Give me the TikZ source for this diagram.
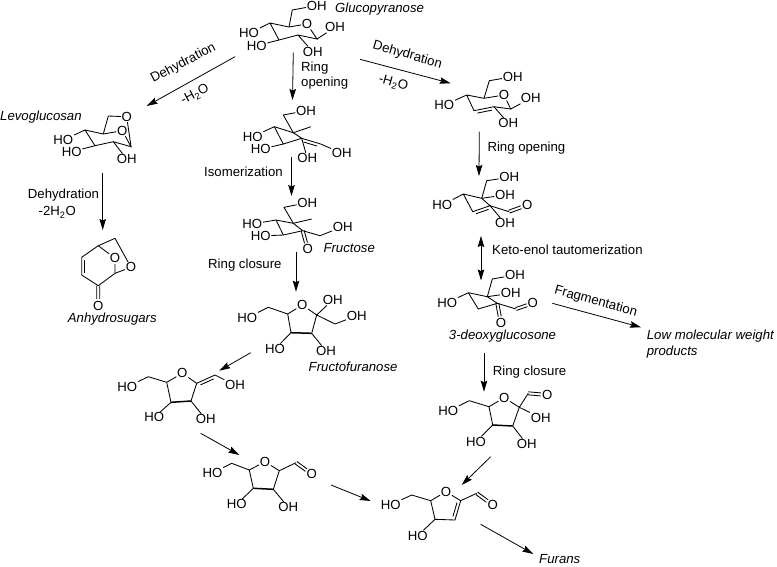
\documentclass[tikz,border=0pt]{standalone}
\usepackage{fontspec}
\setmainfont{Liberation Sans}
\usetikzlibrary{arrows.meta}
\usetikzlibrary{calc}

\tikzset{
   bond/.style={line width=0.85pt},
   backbond/.style={line width=1.5pt},
   atom/.style={inner sep=0.6pt,font=\fontsize{13.2}{15}\selectfont},
   lbl/.style={inner sep=0pt,font=\fontsize{13.2}{15}\selectfont},
   cname/.style={inner sep=0pt,font=\fontsize{13.2}{15}\selectfont\itshape},
   rxn/.style={line width=0.8pt,-{Stealth[length=11pt,width=6.5pt,inset=1.5pt]}},
   rxnboth/.style={line width=0.8pt,{Stealth[length=11pt,width=6.5pt,inset=1.5pt]}-{Stealth[length=11pt,width=6.5pt,inset=1.5pt]}},
}

% second line of a double bond
\newcommand{\sidebond}[3]{\draw[bond] ($(#2)!0.14!(#3)!#1!90:(#3)$) -- ($(#3)!0.14!(#2)!#1!-90:(#2)$);}
% carbonyl, two lines that stop short of the O
\newcommand{\cobond}[2]{
   \draw[bond] ($(#1)!1.5pt!90:(#2)$) -- ($(#1)!0.66!(#2)!1.5pt!90:(#2)$);
   \draw[bond] ($(#1)!1.5pt!-90:(#2)$) -- ($(#1)!0.66!(#2)!1.5pt!-90:(#2)$);
}

\begin{document}
\begin{tikzpicture}[x=1pt,y=-1pt]
   \useasboundingbox (0,0) rectangle (777,566);

   % glucopyranose
   \coordinate (gp1) at (270,23);
   \coordinate (gp2) at (289,27);
   \coordinate (gp3) at (317,39);
   \coordinate (gp4) at (298,35);
   \coordinate (gp5) at (279,40);
   \coordinate (gp6) at (292.3,10);
   \node[atom] (gpO)  at (307,24)     {O};
   \node[atom] (gpa)  at (316.7,5.5)  {OH};
   \node[atom] (gpb)  at (335,27.3)   {OH};
   \node[atom] (gpc)  at (312.7,51.7) {OH};
   \node[atom] (gpd)  at (249,33.3)   {HO};
   \node[atom] (gpe)  at (256.7,45.7) {HO};
   \draw[bond] (gp1) -- (gp2) -- (gpO) -- (gp3) -- (gp4) -- (gp5) -- (gp1);
   \draw[bond] (gp2) -- (gp6) -- (gpa);
   \draw[bond] (gp3) -- (gpb);
   \draw[bond] (gp4) -- (gpc);
   \draw[bond] (gp1) -- (gpd);
   \draw[bond] (gp5) -- (gpe);
   \node[cname, anchor=west] (gpname) at (335,9) {Glucopyranose};

   % open chain enol
   \coordinate (ol1) at (283.3,115);
   \coordinate (ol2) at (293.3,132.7);
   \coordinate (ol3) at (311,126.7);
   \coordinate (ol4) at (274.3,126.7);
   \coordinate (ol5) at (283.3,144);
   \coordinate (ol6) at (301.7,138.3);
   \coordinate (ol7) at (320.7,144);
   \node[atom] (ola) at (306,110.7)   {OH};
   \node[atom] (olb) at (341.7,153.3) {OH};
   \node[atom] (olc) at (307.3,158.3) {OH};
   \node[atom] (old) at (252.7,136.7) {HO};
   \node[atom] (ole) at (260.7,149.3) {HO};
   \draw[bond] (ola) -- (ol1) -- (ol2) -- (ol3);
   \draw[bond] (ol4) -- (ol2) -- (ol6);
   \draw[bond] (ol4) -- (ol5) -- (ol6) -- (ol7) -- (olb);
   \sidebond{-3pt}{ol6}{ol7}
   \draw[bond] (ol6) -- (olc);
   \draw[bond] (ol4) -- (old);
   \draw[bond] (ol5) -- (ole);

   % fructose
   \coordinate (fr1) at (284,207.3);
   \coordinate (fr2) at (293.3,223.3);
   \coordinate (fr3) at (311.7,219);
   \coordinate (fr4) at (276,220);
   \coordinate (fr5) at (283.3,235);
   \coordinate (fr6) at (302.7,230.7);
   \coordinate (fr7) at (320,235.7);
   \node[atom] (fra) at (307.3,202.7) {OH};
   \node[atom] (frb) at (342.7,226.7) {OH};
   \node[atom] (frO) at (307.7,249.3) {O};
   \node[atom] (frd) at (252.3,224)   {HO};
   \node[atom] (fre) at (260.7,236)   {HO};
   \draw[bond] (fra) -- (fr1) -- (fr2) -- (fr3);
   \draw[bond] (fr4) -- (fr2) -- (fr6);
   \draw[bond] (fr4) -- (fr5) -- (fr6) -- (fr7) -- (frb);
   \cobond{fr6}{frO}
   \draw[bond] (fr4) -- (frd);
   \draw[bond] (fr5) -- (fre);
   \node[cname, anchor=west] (frname) at (323.3,248.3) {Fructose};

   % fructofuranose
   \coordinate (ff1) at (287.7,314);
   \coordinate (ff2) at (291,332.7);
   \coordinate (ff3) at (311.7,333.3);
   \coordinate (ff4) at (316.7,315);
   \coordinate (ff5) at (268.3,307.3);
   \coordinate (ff6) at (335,324);
   \node[atom] (ffO) at (302.3,305)   {O};
   \node[atom] (ffa) at (247.3,317.7) {HO};
   \node[atom] (ffb) at (332.7,300)   {OH};
   \node[atom] (ffc) at (356.7,315.7) {OH};
   \node[atom] (ffd) at (275,349)     {HO};
   \node[atom] (ffe) at (326,351)     {OH};
   \draw[bond] (ff1) -- (ffO) -- (ff4) -- (ff3);
   \draw[bond] (ff1) -- (ff2);
   \draw[backbond] (ff2) -- (ff3);
   \draw[bond] (ff1) -- (ff5) -- (ffa);
   \draw[bond] (ff4) -- (ffb);
   \draw[bond] (ff4) -- (ff6) -- (ffc);
   \draw[bond] (ff2) -- (ffd);
   \draw[bond] (ff3) -- (ffe);
   \node[cname, anchor=west] (ffname) at (308.5,367) {Fructofuranose};

   % furan enol
   \coordinate (ef1) at (166.7,382.3);
   \coordinate (ef2) at (171,402.3);
   \coordinate (ef3) at (191,401);
   \coordinate (ef4) at (196.7,383.3);
   \coordinate (ef5) at (215,375);
   \coordinate (ef6) at (148.3,376.7);
   \node[atom] (efO) at (182.3,373.3) {O};
   \node[atom] (efa) at (127.3,386.7) {HO};
   \node[atom] (efb) at (235,385)     {OH};
   \node[atom] (efc) at (154.3,417.3) {HO};
   \node[atom] (efd) at (205.7,419.3) {OH};
   \draw[bond] (ef1) -- (efO) -- (ef4) -- (ef3);
   \draw[bond] (ef1) -- (ef2);
   \draw[backbond] (ef2) -- (ef3);
   \draw[bond] (ef4) -- (ef5) -- (efb);
   \sidebond{-3pt}{ef4}{ef5}
   \draw[bond] (ef1) -- (ef6) -- (efa);
   \draw[bond] (ef2) -- (efc);
   \draw[bond] (ef3) -- (efd);

   % furan aldehyde
   \coordinate (fa1) at (249.3,470);
   \coordinate (fa2) at (253.3,488.3);
   \coordinate (fa3) at (273.3,489.3);
   \coordinate (fa4) at (279.3,470.7);
   \coordinate (fa5) at (296,462.7);
   \coordinate (fa6) at (231.7,463.3);
   \node[atom] (faO) at (265,461.7)   {O};
   \node[atom] (faa) at (311.7,474)   {O};
   \node[atom] (fab) at (212.5,473)   {HO};
   \node[atom] (fac) at (236.7,504.3) {HO};
   \node[atom] (fad) at (288.3,507.3) {OH};
   \draw[bond] (fa1) -- (faO) -- (fa4) -- (fa3);
   \draw[bond] (fa1) -- (fa2);
   \draw[backbond] (fa2) -- (fa3);
   \draw[bond] (fa4) -- (fa5);
   \cobond{fa5}{faa}
   \draw[bond] (fa1) -- (fa6) -- (fab);
   \draw[bond] (fa2) -- (fac);
   \draw[bond] (fa3) -- (fad);

   % hydroxy furfural
   \coordinate (hf1) at (430.7,500.7);
   \coordinate (hf2) at (435,519.3);
   \coordinate (hf3) at (455,520);
   \coordinate (hf4) at (460.7,500.7);
   \coordinate (hf5) at (476.7,493.3);
   \coordinate (hf6) at (411.7,495);
   \node[atom] (hfO) at (446,491.7)   {O};
   \node[atom] (hfa) at (492.7,505)   {O};
   \node[atom] (hfb) at (390.7,504.7) {HO};
   \node[atom] (hfc) at (417.7,535.7) {HO};
   \draw[bond] (hf1) -- (hfO) -- (hf4) -- (hf3) -- (hf2) -- (hf1);
   \sidebond{3pt}{hf3}{hf4}
   \draw[bond] (hf4) -- (hf5);
   \cobond{hf5}{hfa}
   \draw[bond] (hf1) -- (hf6) -- (hfb);
   \draw[bond] (hf2) -- (hfc);

   % levoglucosan
   \coordinate (lv1) at (85,130);
   \coordinate (lv2) at (103.3,134);
   \coordinate (lv3) at (131,146.7);
   \coordinate (lv4) at (113.3,141.7);
   \coordinate (lv5) at (95,145.7);
   \coordinate (lv6) at (108.3,116);
   \node[atom] (lvO)  at (122.3,130.7) {O};
   \node[atom] (lvP)  at (126.7,116.7) {O};
   \node[atom] (lva)  at (63.3,140)    {HO};
   \node[atom] (lvb)  at (71.7,151.7)  {HO};
   \node[atom] (lvc)  at (126.7,159)   {OH};
   \draw[bond] (lv1) -- (lv2) -- (lvO) -- (lv3) -- (lv4) -- (lv5) -- (lv1);
   \draw[bond] (lv2) -- (lv6) -- (lvP) -- (lv3);
   \draw[bond] (lv1) -- (lva);
   \draw[bond] (lv5) -- (lvb);
   \draw[bond] (lv4) -- (lvc);
   \node[cname, anchor=west] (lvname) at (0,117.3) {Levoglucosan};

   % anhydrosugar
   \coordinate (ah1) at (115,238.3);
   \coordinate (ah2) at (98.3,245.7);
   \coordinate (ah3) at (81.7,257.3);
   \coordinate (ah4) at (81.7,275);
   \coordinate (ah5) at (98.3,285.7);
   \coordinate (ah6) at (115,273.3);
   \node[atom] (ahO) at (115,258.3)  {O};
   \node[atom] (ahP) at (131,267.3)  {O};
   \node[atom] (ahQ) at (98.3,305.7) {O};
   \draw[bond] (ah1) -- (ah2) -- (ah3) -- (ah4) -- (ah5) -- (ah6) -- (ahO) -- (ah2);
   \draw[bond] (ah1) -- (ahP) -- (ah6);
   \sidebond{3pt}{ah3}{ah4}
   \cobond{ah5}{ahQ}
   \node[cname] (ahname) at (112.3,319.5) {Anhydrosugars};

   % dehydrated pyranose
   \coordinate (dg1) at (484,98.3);
   \coordinate (dg2) at (510.7,109);
   \coordinate (dg3) at (494,106.7);
   \coordinate (dg4) at (474,110.7);
   \coordinate (dg5) at (466.7,95);
   \coordinate (dg6) at (489.3,80.7);
   \node[atom] (dgO) at (504,95)      {O};
   \node[atom] (dga) at (512.7,76.7)  {OH};
   \node[atom] (dgb) at (530.7,98.3)  {OH};
   \node[atom] (dgc) at (508.3,123.3) {OH};
   \node[atom] (dgd) at (444.3,105)   {HO};
   \draw[bond] (dg5) -- (dg1) -- (dgO) -- (dg2) -- (dg3) -- (dg4) -- (dg5);
   \sidebond{3pt}{dg3}{dg4}
   \draw[bond] (dg1) -- (dg6) -- (dga);
   \draw[bond] (dg2) -- (dgb);
   \draw[bond] (dg3) -- (dgc);
   \draw[bond] (dg5) -- (dgd);

   % open enol aldehyde
   \coordinate (oe1) at (481.7,198.3);
   \coordinate (oe2) at (463.3,194);
   \coordinate (oe3) at (472.7,211.7);
   \coordinate (oe4) at (490,205.7);
   \coordinate (oe5) at (509,211.7);
   \coordinate (oe6) at (486.7,180.7);
   \node[atom] (oea) at (509.3,177.3) {OH};
   \node[atom] (oeb) at (505,195)     {OH};
   \node[atom] (oec) at (442.3,205)   {HO};
   \node[atom] (oed) at (505,223.3)   {OH};
   \node[atom] (oeO) at (527.3,205)   {O};
   \draw[bond] (oe2) -- (oe1) -- (oe4) -- (oe3) -- (oe2);
   \sidebond{-3pt}{oe3}{oe4}
   \draw[bond] (oe1) -- (oe6) -- (oea);
   \draw[bond] (oe1) -- (oeb);
   \draw[bond] (oe2) -- (oec);
   \draw[bond] (oe4) -- (oed);
   \draw[bond] (oe4) -- (oe5);
   \cobond{oe5}{oeO}

   % 3-deoxyglucosone
   \coordinate (dx1) at (487.3,296.7);
   \coordinate (dx2) at (492.3,279);
   \coordinate (dx3) at (468.3,292.7);
   \coordinate (dx4) at (478.3,309);
   \coordinate (dx5) at (497.3,303.3);
   \coordinate (dx6) at (516,309);
   \node[atom] (dxa) at (515,275)     {OH};
   \node[atom] (dxb) at (510.7,293.3) {OH};
   \node[atom] (dxc) at (447.3,302.7) {HO};
   \node[atom] (dxO) at (532.7,303.3) {O};
   \node[atom] (dxP) at (501,323.3)   {O};
   \draw[bond] (dx3) -- (dx1) -- (dx5) -- (dx4) -- (dx3);
   \draw[bond] (dx1) -- (dx2) -- (dxa);
   \draw[bond] (dx1) -- (dxb);
   \draw[bond] (dx3) -- (dxc);
   \draw[bond] (dx5) -- (dx6);
   \cobond{dx6}{dxO}
   \cobond{dx5}{dxP}
   \node[cname] (dxname) at (502.5,335.7) {3-deoxyglucosone};

   % ring closed aldehyde
   \coordinate (rc1) at (489,406.7);
   \coordinate (rc2) at (492.7,425);
   \coordinate (rc3) at (512.7,426);
   \coordinate (rc4) at (519.3,407.3);
   \coordinate (rc5) at (528.3,393.3);
   \coordinate (rc6) at (469.3,400.7);
   \node[atom] (rcO) at (504.3,397.7) {O};
   \node[atom] (rca) at (547.3,395)   {O};
   \node[atom] (rcb) at (540.7,417.7) {OH};
   \node[atom] (rcc) at (448.3,411)   {HO};
   \node[atom] (rcd) at (476,441.7)   {HO};
   \node[atom] (rce) at (526.7,444)   {OH};
   \draw[bond] (rc1) -- (rcO) -- (rc4) -- (rc3);
   \draw[bond] (rc1) -- (rc2);
   \draw[backbond] (rc2) -- (rc3);
   \draw[bond] (rc4) -- (rc5);
   \cobond{rc5}{rca}
   \draw[bond] (rc4) -- (rcb);
   \draw[bond] (rc1) -- (rc6) -- (rcc);
   \draw[bond] (rc2) -- (rcd);
   \draw[bond] (rc3) -- (rce);

   % plain product names
   \node[cname, anchor=west] (lmw1) at (646.7,336)   {Low molecular weight};
   \node[cname, anchor=west] (lmw2) at (646.7,351.7) {products};
   \node[cname, anchor=west] (fur)  at (539,559)     {Furans};

   % free ends of the reaction arrows
   \coordinate (s1) at (293.3,52.7);  \coordinate (t1) at (292.5,100);
   \coordinate (s2) at (235,56.7);    \coordinate (t2) at (146.7,106);
   \coordinate (s3) at (360,59.3);    \coordinate (t3) at (450.7,83.3);
   \coordinate (s4) at (291.5,157);   \coordinate (t4) at (291.5,196);
   \coordinate (s5) at (296,252.3);   \coordinate (t5) at (296,291.7);
   \coordinate (s6) at (250.7,352.7); \coordinate (t6) at (219.3,370.7);
   \coordinate (s7) at (200.7,433.3); \coordinate (t7) at (239.3,455);
   \coordinate (s8) at (331,485);     \coordinate (t8) at (370.7,501);
   \coordinate (s9) at (102.7,173.3); \coordinate (t9) at (102.7,230);
   \coordinate (s10) at (479.3,131.7); \coordinate (t10) at (479,176);
   \coordinate (s11) at (481,236);    \coordinate (t11) at (481,280.5);
   \coordinate (s12) at (552.3,303.3); \coordinate (t12) at (641,327.3);
   \coordinate (s13) at (484,353.3);  \coordinate (t13) at (484,391.7);
   \coordinate (s14) at (490.7,456.7); \coordinate (t14) at (461.7,485);
   \coordinate (s15) at (480.7,524.3); \coordinate (t15) at (533.3,554);

   \draw[rxn] (s1) -- (t1);
   \draw[rxn] (s2) -- (t2);
   \draw[rxn] (s3) -- (t3);
   \draw[rxn] (s4) -- (t4);
   \draw[rxn] (s5) -- (t5);
   \draw[rxn] (s6) -- (t6);
   \draw[rxn] (s7) -- (t7);
   \draw[rxn] (s8) -- (t8);
   \draw[rxn] (s9) -- (t9);
   \draw[rxn] (s10) -- (t10);
   \draw[rxnboth] (s11) -- (t11);
   \draw[rxn] (s12) -- (t12);
   \draw[rxn] (s13) -- (t13);
   \draw[rxn] (s14) -- (t14);
   \draw[rxn] (s15) -- (t15);

   % arrow labels
   \node[lbl, anchor=west] (l1)  at (301,68)   {Ring};
   \node[lbl, anchor=west] (l2)  at (301,83)   {opening};
   \node[lbl, rotate=27.7] (l3)  at (183.3,63.3) {Dehydration};
   \node[lbl, rotate=27.7] (l4)  at (195,95)   {-H\textsubscript{2}O};
   \node[lbl, rotate=-16]  (l5)  at (407.3,55) {Dehydration};
   \node[lbl, rotate=-16]  (l6)  at (393.3,83.3) {-H\textsubscript{2}O};
   \node[lbl, anchor=west] (l7)  at (204,172)  {Isomerization};
   \node[lbl, anchor=west] (l8)  at (208,265)  {Ring closure};
   \node[lbl, anchor=west] (l9)  at (27.7,195.3) {Dehydration};
   \node[lbl]              (l10) at (57.3,212.3) {-2H\textsubscript{2}O};
   \node[lbl, anchor=west] (l11) at (487.3,147.7) {Ring opening};
   \node[lbl, anchor=west] (l12) at (492,250)  {Keto-enol tautomerization};
   \node[lbl, rotate=-15.3] (l13) at (595.7,301.7) {Fragmentation};
   \node[lbl, anchor=west] (l14) at (492.7,371.7) {Ring closure};
\end{tikzpicture}
\end{document}
